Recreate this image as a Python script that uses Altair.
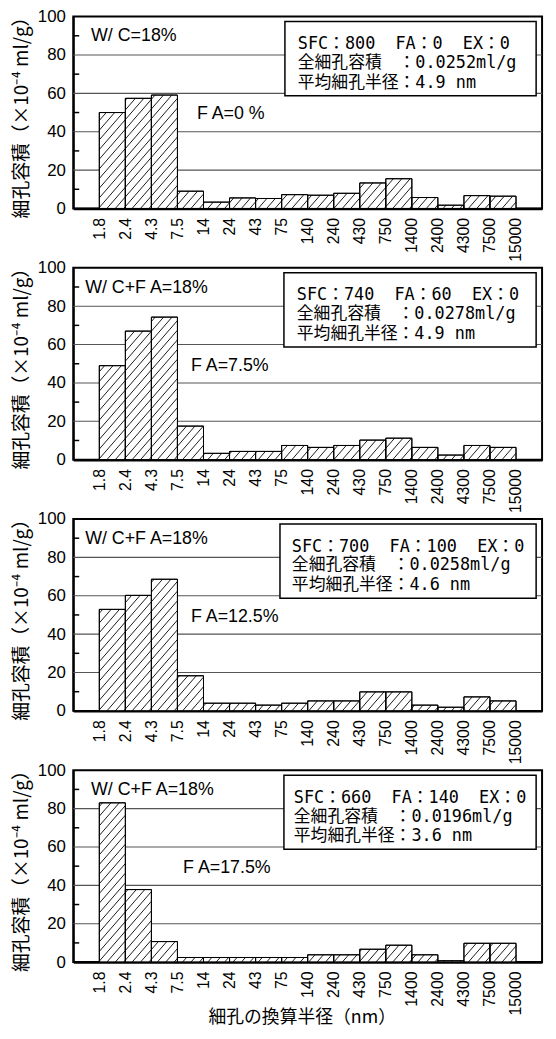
import json
import numpy as np
import pandas as pd
import altair as alt

# ---------------- data ----------------
edge_labels = ["1.8", "2.4", "4.3", "7.5", "14", "24", "43", "75", "140", "240",
               "430", "750", "1400", "2400", "4300", "7500", "15000"]

vol_fa0 = [50.0, 57.4, 59.1, 9.0, 3.3, 5.5, 5.2, 7.2, 6.9, 7.9, 13.3, 15.5, 5.7, 1.7, 6.7, 6.4]
vol_fa75 = [49.0, 67.0, 74.3, 17.5, 3.3, 4.3, 4.3, 7.4, 6.4, 7.4, 10.2, 11.2, 6.4, 2.4, 7.4, 6.4]
vol_fa125 = [52.9, 60.2, 68.6, 18.3, 4.0, 4.0, 3.0, 4.0, 5.2, 5.2, 9.9, 9.9, 3.0, 1.9, 7.3, 5.2]
vol_fa175 = [83.0, 37.8, 10.7, 2.4, 2.4, 2.4, 2.4, 2.4, 3.8, 3.8, 6.7, 8.8, 3.8, 0.7, 9.8, 9.8]

wc_texts = ["W/ C=18%", "W/ C+F A=18%", "W/ C+F A=18%", "W/ C+F A=18%"]
fa_texts = ["F A=0 %", "F A=7.5%", "F A=12.5%", "F A=17.5%"]
NB = "\u00a0"
mix_texts = ["SFC：800" + NB * 2 + "FA：0" + NB * 2 + "EX：0",
             "SFC：740" + NB * 2 + "FA：60" + NB * 2 + "EX：0",
             "SFC：700" + NB * 2 + "FA：100" + NB * 2 + "EX：0",
             "SFC：660" + NB * 2 + "FA：140" + NB * 2 + "EX：0"]
total_vol = ["0.0252ml/g", "0.0278ml/g", "0.0258ml/g", "0.0196ml/g"]
mean_radius = ["4.9 nm", "4.9 nm", "4.6 nm", "3.6 nm"]

y_title = "細孔容積（×10⁻⁴ ml/g）"
x_title = "細孔の換算半径（nm）"
y_tick_values = [0, 20, 40, 60, 80, 100]
grid_values = [20, 40, 60, 80]
minor_ticks = [10, 30, 50, 70, 90]

# ---------------- layout / style ----------------
W, H = 474, 194
PX = W / 18.0
PY = H / 100.0
SLOPE = 1.15
DX = 8.5
GRID_HALF = 0.28  # half thickness of a grid line, in value units
wc_x = [18, 12, 12, 18]
fa_x = [125, 119, 119, 111]
box_x = [214, 213, 209, 213]
BOX_X2 = W - 6
txt_x = [227, 226, 221, 223]
LABEL_FONT = "Liberation Sans"
CJK_FONT = "Noto Sans CJK JP"
MONO_FONT = "DejaVu Sans Mono, Noto Sans CJK JP"

label_expr = json.dumps(edge_labels) + "[datum.value]"


def hatch_rows(values):
    rows = []
    for i, v in enumerate(values):
        u0, u1 = (i + 1) * PX, (i + 2) * PX
        h = v * PY
        kmin = int(np.floor((u0 - h / SLOPE) / DX)) - 1
        kmax = int(np.ceil(u1 / DX)) + 1
        for k in range(kmin, kmax + 1):
            c = k * DX
            a = max(u0, c)
            b = min(u1, c + h / SLOPE)
            if b - a > 0.3:
                rows.append(dict(x=a / PX - 1, v=SLOPE * (a - c) / PY,
                                 x2=b / PX - 1, v2=SLOPE * (b - c) / PY))
    return pd.DataFrame(rows)


def panel(idx, values, last=False):
    bars = pd.DataFrame({"x": list(range(16)), "x2": list(range(1, 17)), "v": values})
    xs = alt.Scale(domain=[-1, 17], nice=False, zero=False)
    ys = alt.Scale(domain=[0, 100], nice=False)

    x_axis = alt.Axis(values=list(range(17)), labelExpr=label_expr, labelAngle=-90,
                      labelFontSize=16, labelFont=LABEL_FONT, labelColor="black",
                      labelPadding=9, labelOverlap=False, labelBound=False, labelFlush=False,
                      ticks=False, grid=False, domainColor="black", domainWidth=2.5,
                      titleFont=CJK_FONT, titleFontSize=18,
                      titleFontWeight="normal", titleColor="black",
                      titleX=W / 2 - 6, titleY=56, titleBaseline="middle", titleAlign="center")
    y_axis = alt.Axis(values=y_tick_values, labelFontSize=17, labelFont=LABEL_FONT,
                      labelColor="black", labelPadding=8, ticks=False, grid=False,
                      domainColor="black", domainWidth=2,
                      titleFont=CJK_FONT, titleFontSize=19,
                      titleFontWeight="normal", titleColor="black",
                      titleX=-52, titleY=H / 2, titleAngle=-90,
                      titleAlign="center", titleBaseline="middle")
    xt = x_title if last else None
    X = lambda f: alt.X(f, scale=xs, axis=x_axis, title=xt)
    Y = lambda f: alt.Y(f, scale=ys, axis=y_axis, title=y_title)

    grid_df = pd.DataFrame({"x": [-1] * len(grid_values), "x2": [17] * len(grid_values),
                            "v": [g - GRID_HALF for g in grid_values],
                            "v2": [g + GRID_HALF for g in grid_values]})
    grid = alt.Chart(grid_df).mark_rect(fill="#555555").encode(
        x=X("x:Q"), x2="x2:Q", y=Y("v:Q"), y2="v2:Q")
    base = alt.Chart(bars).mark_rect(fill="white", stroke="black", strokeWidth=1).encode(
        x=X("x:Q"), x2="x2:Q", y=Y("v:Q"), y2=alt.datum(0))
    hat = alt.Chart(hatch_rows(values)).mark_rule(color="black", strokeWidth=0.9).encode(
        x=X("x:Q"), x2="x2:Q", y=Y("v:Q"), y2="v2:Q")
    outline = alt.Chart(bars).mark_rect(fill="white", fillOpacity=0, stroke="black",
                                        strokeWidth=1).encode(
        x=X("x:Q"), x2="x2:Q", y=Y("v:Q"), y2=alt.datum(0))
    ticks = alt.Chart(pd.DataFrame({"v": minor_ticks})).mark_rule(
        color="black", strokeWidth=1.5).encode(
        x=alt.value(0), x2=alt.value(6), y=Y("v:Q"))

    one = pd.DataFrame({"a": [0]})
    box = alt.Chart(one).mark_rect(fill="white", stroke="black", strokeWidth=1.5).encode(
        x=alt.value(box_x[idx]), x2=alt.value(BOX_X2), y=alt.value(5), y2=alt.value(80))
    info = pd.DataFrame({
        "line": [mix_texts[idx], "全細孔容積　：" + total_vol[idx], "平均細孔半径：" + mean_radius[idx]],
        "yy": [28, 47, 67],
    })
    info_txt = alt.Chart(info).mark_text(align="left", baseline="middle", font=MONO_FONT,
                                         fontSize=17, color="black").encode(
        x=alt.value(txt_x[idx]), y=alt.Y("yy:Q", scale=None), text="line:N")
    wc = alt.Chart(pd.DataFrame({"t": [wc_texts[idx]]})).mark_text(
        align="left", baseline="middle", font=LABEL_FONT, fontSize=18, color="black").encode(
        x=alt.value(wc_x[idx]), y=alt.value(20), text="t:N")
    fa = alt.Chart(pd.DataFrame({"t": [fa_texts[idx]]})).mark_text(
        align="left", baseline="middle", font=LABEL_FONT, fontSize=18, color="black").encode(
        x=alt.value(fa_x[idx]), y=alt.value(99), text="t:N")

    return alt.layer(grid, base, hat, outline, ticks, box, info_txt, wc, fa).properties(
        width=W, height=H)


chart = alt.vconcat(
    panel(0, vol_fa0),
    panel(1, vol_fa75),
    panel(2, vol_fa125),
    panel(3, vol_fa175, last=True),
    spacing=60,
    bounds="flush",
).properties(
    padding={"left": 3, "top": -8, "right": 5, "bottom": 0},
).configure_view(stroke="black", strokeWidth=2)

chart.save("out.html", embed_options={"renderer": "svg", "actions": False})
